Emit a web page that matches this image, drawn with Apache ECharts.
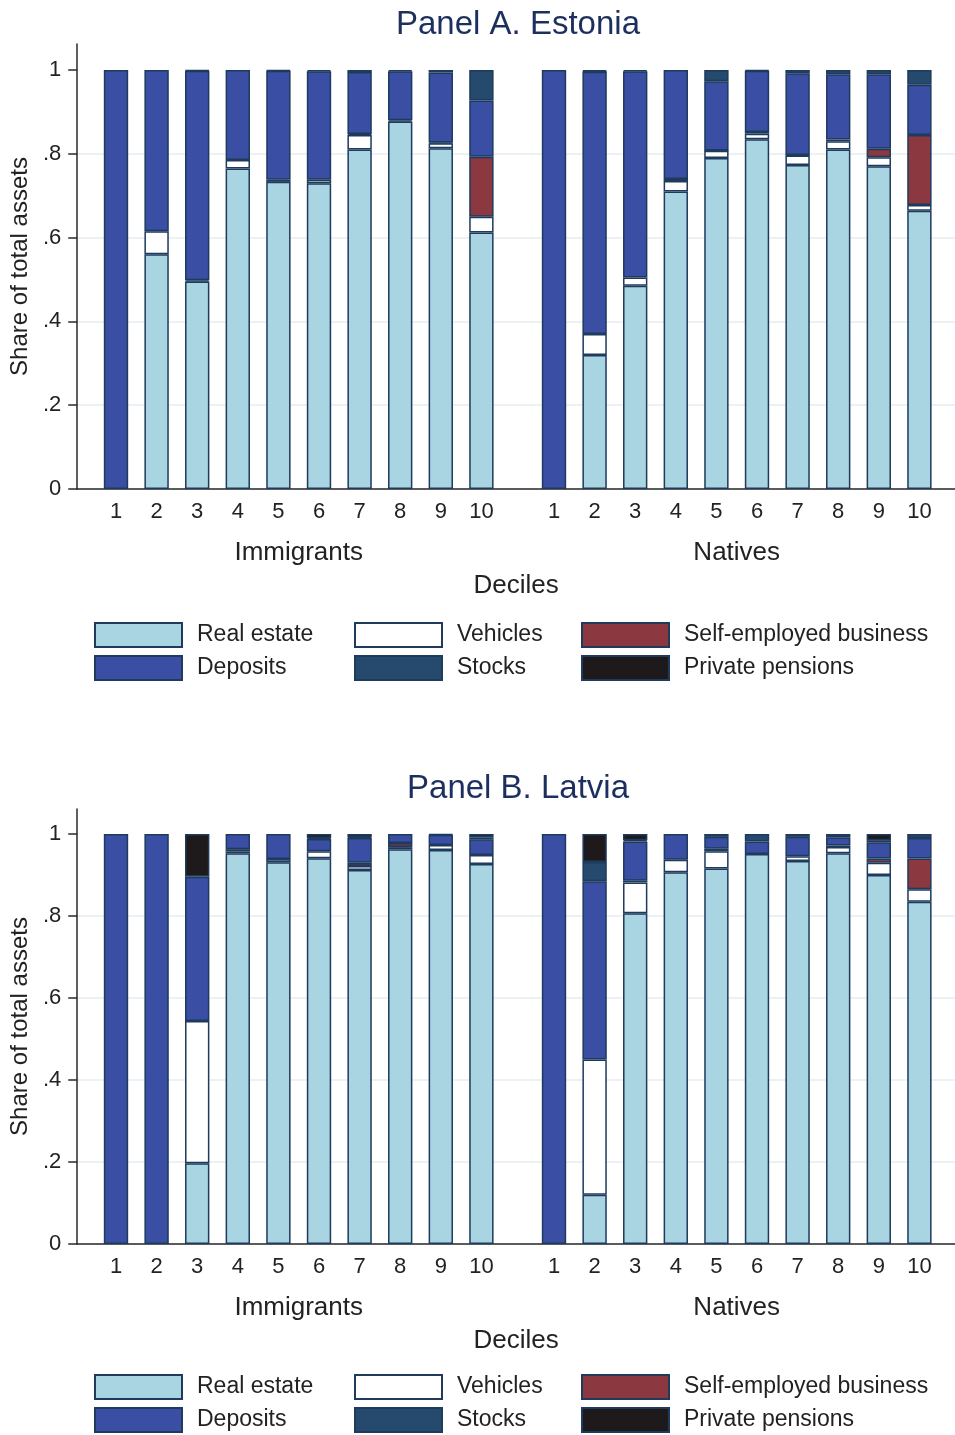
<!DOCTYPE html>
<html><head><meta charset="utf-8">
<script src="https://cdn.jsdelivr.net/npm/echarts@6/dist/echarts.min.js"></script>
<style>html,body{margin:0;padding:0;background:#fff}#c{width:955px;height:1435px}</style>
</head><body><div id="c"></div>
<script>
// ---- data ----
const deciles = ['1','2','3','4','5','6','7','8','9','10'];
const seriesNames = ['Real estate','Vehicles','Self-employed business','Deposits','Stocks','Private pensions'];
const panelTitles = ['Panel A. Estonia','Panel B. Latvia'];
const groupNames = ['Immigrants','Natives'];
const yTicks = [0, 0.2, 0.4, 0.6, 0.8, 1];

// Estonia – Immigrants
const estImmRealEstate = [0, 0.56, 0.495, 0.765, 0.733, 0.73, 0.81, 0.877, 0.813, 0.612];
const estImmVehicles   = [0, 0.055, 0.003, 0.02, 0.005, 0.008, 0.035, 0.003, 0.012, 0.038];
const estImmSelfEmp    = [0, 0, 0, 0, 0, 0, 0.002, 0, 0.002, 0.143];
const estImmDeposits   = [1, 0.385, 0.5, 0.215, 0.26, 0.259, 0.148, 0.117, 0.167, 0.134];
const estImmStocks     = [0, 0, 0.002, 0, 0.002, 0.003, 0.005, 0.003, 0.006, 0.073];
const estImmPensions   = [0, 0, 0, 0, 0, 0, 0, 0, 0, 0];
// Estonia – Natives
const estNatRealEstate = [0, 0.32, 0.485, 0.71, 0.79, 0.835, 0.773, 0.81, 0.77, 0.664];
const estNatVehicles   = [0, 0.05, 0.02, 0.025, 0.017, 0.013, 0.023, 0.02, 0.022, 0.014];
const estNatSelfEmp    = [0, 0, 0, 0.005, 0.001, 0.004, 0.001, 0.004, 0.02, 0.167];
const estNatDeposits   = [1, 0.626, 0.492, 0.26, 0.165, 0.146, 0.195, 0.156, 0.178, 0.12];
const estNatStocks     = [0, 0.001, 0.003, 0, 0.027, 0.002, 0.008, 0.01, 0.01, 0.035];
const estNatPensions   = [0, 0.003, 0, 0, 0, 0, 0, 0, 0, 0];
// Latvia – Immigrants
const latImmRealEstate = [0, 0, 0.197, 0.953, 0.931, 0.941, 0.912, 0.963, 0.961, 0.927];
const latImmVehicles   = [0, 0, 0.347, 0.004, 0.008, 0.017, 0.01, 0.005, 0.012, 0.022];
const latImmSelfEmp    = [0, 0, 0, 0.006, 0, 0, 0.008, 0.01, 0, 0];
const latImmDeposits   = [1, 1, 0.352, 0.037, 0.061, 0.03, 0.06, 0.022, 0.025, 0.038];
const latImmStocks     = [0, 0, 0, 0, 0, 0.002, 0.002, 0, 0, 0.005];
const latImmPensions   = [0, 0, 0.104, 0, 0, 0.01, 0.008, 0, 0.002, 0.008];
// Latvia – Natives
const latNatRealEstate = [0, 0.12, 0.807, 0.907, 0.916, 0.951, 0.934, 0.953, 0.9, 0.835];
const latNatVehicles   = [0, 0.33, 0.075, 0.03, 0.042, 0, 0.012, 0.015, 0.03, 0.03];
const latNatSelfEmp    = [0, 0, 0.004, 0, 0.006, 0, 0, 0.004, 0.01, 0.075];
const latNatDeposits   = [1, 0.435, 0.096, 0.063, 0.029, 0.031, 0.047, 0.02, 0.04, 0.05];
const latNatStocks     = [0, 0.047, 0.003, 0, 0.007, 0.018, 0, 0.008, 0.005, 0.01];
const latNatPensions   = [0, 0.068, 0.015, 0, 0, 0, 0.007, 0, 0.015, 0];

const groups = [
  [estImmRealEstate, estImmVehicles, estImmSelfEmp, estImmDeposits, estImmStocks, estImmPensions],
  [estNatRealEstate, estNatVehicles, estNatSelfEmp, estNatDeposits, estNatStocks, estNatPensions],
  [latImmRealEstate, latImmVehicles, latImmSelfEmp, latImmDeposits, latImmStocks, latImmPensions],
  [latNatRealEstate, latNatVehicles, latNatSelfEmp, latNatDeposits, latNatStocks, latNatPensions]
];

// ---- style ----
const colors = ['#a9d4e1', '#ffffff', '#8b3840', '#3a4ea4', '#254a6d', '#1e1a1c'];
const borderCol = '#1e3a5c';
const FONT = '"Liberation Sans", Arial, Helvetica, sans-serif';
const textCol = '#222222';

// panel layout (pixels)
const panels = [
  { top: 44, zeroY: 489, unit: 419, titleTop: 3, legendTop: 622 },
  { top: 809, zeroY: 1244, unit: 410, titleTop: 767, legendTop: 1374 }
];
const plotLeft = 75, plotWidth = 880;
const subLefts = [95.7, 533.7], subWidth = 406;

const grid = [], xAxis = [], yAxis = [], series = [], title = [], legend = [];

panels.forEach((p, pi) => {
  const h = p.zeroY - p.top;
  const yMax = h / p.unit;
  title.push({
    text: panelTitles[pi], left: 513, textAlign: 'center', top: p.titleTop,
    textStyle: { fontFamily: FONT, fontSize: 33, fontWeight: 'normal', color: '#1c2f5e' }
  });
  // background grid with y-axis & gridlines
  const bgIdx = grid.length;
  grid.push({ left: plotLeft, top: p.top, width: plotWidth, height: h });
  xAxis.push({
    type: 'value', gridIndex: bgIdx, min: 0, max: 1,
    axisLine: { show: true, lineStyle: { color: '#2a2a2a', width: 1.5 } },
    axisTick: { show: false }, axisLabel: { show: false }, splitLine: { show: false },
    name: 'Deciles', nameLocation: 'middle', nameGap: 84,
    nameTextStyle: { fontFamily: FONT, fontSize: 26, color: textCol }
  });
  yAxis.push({
    type: 'value', gridIndex: bgIdx, min: 0, max: yMax, interval: 0.2,
    axisLine: { show: true, lineStyle: { color: '#2a2a2a', width: 1.5 } },
    axisTick: { show: true, length: 9, customValues: yTicks, lineStyle: { color: '#2a2a2a', width: 1.5 } },
    axisLabel: {
      customValues: yTicks, margin: 16,
      fontFamily: FONT, fontSize: 22, color: textCol,
      formatter: v => v === 0 ? '0' : (Math.abs(v - 1) < 1e-6 ? '1' : String(+v.toFixed(1)).replace(/^0/, ''))
    },
    splitLine: { show: true, showMaxLine: false, lineStyle: { color: '#e6edf0', width: 1.5 } },
    name: 'Share of total assets', nameLocation: 'middle', nameGap: 45,
    nameTextStyle: { fontFamily: FONT, fontSize: 24, color: textCol }
  });
  // sub grids
  [0, 1].forEach(gi => {
    const idx = grid.length;
    grid.push({ left: subLefts[gi], top: p.top, width: subWidth, height: h });
    xAxis.push({
      type: 'category', gridIndex: idx, data: deciles,
      axisLine: { show: false }, axisTick: { show: false }, splitLine: { show: false },
      axisLabel: { fontFamily: FONT, fontSize: 22, color: textCol, margin: 12 },
      name: groupNames[gi], nameLocation: 'middle', nameGap: 51,
      nameTextStyle: { fontFamily: FONT, fontSize: 26, color: textCol }
    });
    yAxis.push({ type: 'value', gridIndex: idx, min: 0, max: yMax, show: false, splitLine: { show: false } });
    const data = groups[pi * 2 + gi];
    seriesNames.forEach((nm, si) => {
      series.push({
        type: 'bar', name: nm, xAxisIndex: idx, yAxisIndex: idx,
        stack: 'g' + idx, barWidth: '60%',
        data: data[si].map(v => v === 0 ? null : v),
        itemStyle: { color: colors[si], borderColor: borderCol, borderWidth: 1.5 },
        emphasis: { disabled: true }, animation: false
      });
    });
  });
  // legends: 3 columns x 2 rows
  const cols = [[0, 3], [1, 4], [2, 5]];
  const colLefts = [94, 354, 581];
  cols.forEach((c, ci) => {
    legend.push({
      orient: 'vertical', left: colLefts[ci], top: p.legendTop, padding: 0, height: 80,
      itemWidth: 87, itemHeight: 24, itemGap: 7, selectedMode: false,
      icon: 'rect',
      data: c.map(i => seriesNames[i]),
      textStyle: { fontFamily: FONT, fontSize: 23, lineHeight: 24, color: textCol, padding: [0, 0, 0, 10] }
    });
  });
});

const chart = echarts.init(document.getElementById('c'), null, { renderer: 'canvas' });
chart.setOption({ backgroundColor: '#ffffff', animation: false, title, legend, grid, xAxis, yAxis, series });
</script>
</body></html>
